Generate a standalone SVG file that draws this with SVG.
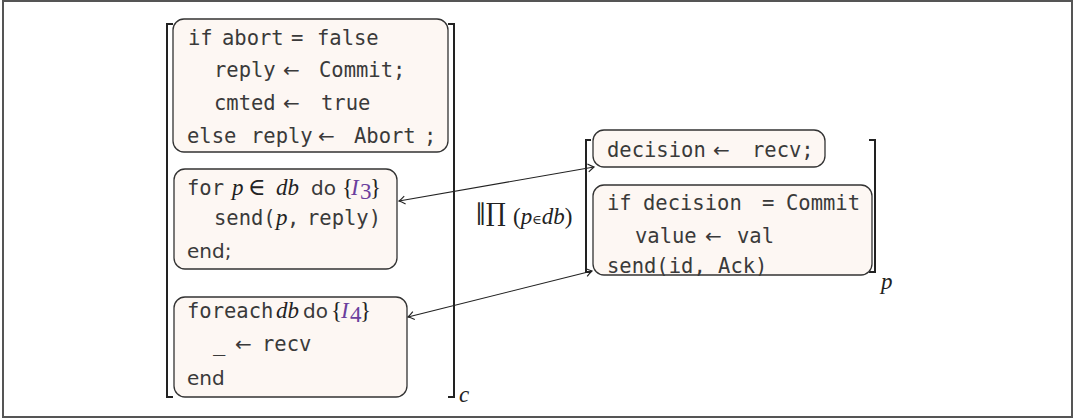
<svg xmlns="http://www.w3.org/2000/svg" width="1077" height="418" viewBox="0 0 1077 418">
<style>
.box{fill:#fdf7f3;stroke:#333;stroke-width:1.3}
.br{fill:none;stroke:#222;stroke-width:2}
.m{font-family:"DejaVu Sans Mono",monospace;font-size:20.5px;fill:#3a3a3a}
.s{font-family:"DejaVu Sans",sans-serif;font-size:20px;fill:#3a3a3a}
.i{font-family:"Liberation Serif",serif;font-style:italic;font-size:23px;fill:#222}
.r{font-family:"Liberation Serif",serif;font-size:23px;fill:#222}
.el{font-family:"DejaVu Serif",serif;font-size:24px;fill:#222}
.pu{fill:#6b3f9e}
.con{fill:none;stroke:#222;stroke-width:1.2}
</style>
<defs>
<marker id="ah" viewBox="-8 -5 10 10" refX="0" refY="0" markerWidth="10" markerHeight="10" markerUnits="userSpaceOnUse" orient="auto-start-reverse">
<path d="M-6,-4 Q-2,-1 0,0 Q-2,1 -6,4" fill="none" stroke="#222" stroke-width="1.1"/>
</marker>
</defs>
<rect x="3" y="1" width="1069" height="416" fill="#fff" stroke="#555" stroke-width="2"/>

<g id="bracket-left">
<path class="br" d="M173,24 H167 V397 H173"/>
<path class="br" d="M448,24 H454 V397 H448"/>
<text class="i" x="459" y="402" font-size="17">c</text>
</g>

<g id="node-commit">
<rect class="box" x="173" y="19" width="275" height="133" rx="11"/>
<text class="m" x="188" y="45">if</text><text class="m" x="222" y="45">abort</text><text class="m" x="291" y="45">=</text><text class="m" x="317" y="45">false</text>
<text class="m" x="214" y="77">reply</text><text class="s" x="283" y="77">←</text><text class="m" x="319" y="77">Commit;</text>
<text class="m" x="214" y="110">cmted</text><text class="s" x="283" y="110">←</text><text class="m" x="321" y="110">true</text>
<text class="m" x="187" y="143">else</text><text class="m" x="251" y="143">reply</text><text class="s" x="318" y="143">←</text><text class="m" x="354" y="143">Abort</text><text class="m" x="424" y="143">;</text>
</g>

<g id="node-for">
<rect class="box" x="174" y="169" width="223" height="100" rx="11"/>
<text class="m" x="187" y="195">for</text><text class="i" x="232" y="195">p</text><text class="el" x="248" y="195">∈</text><text class="i" x="276" y="195">db</text><text class="s" x="311" y="195">do</text><text class="r" x="342" y="195">{</text><text class="i pu" x="351" y="195">I</text><text class="r pu" x="360" y="199" font-size="15">3</text><text class="r" x="370" y="195">}</text>
<text class="m" x="214" y="225">send(</text><text class="i" x="276" y="225">p</text><text class="m" x="287" y="225">,</text><text class="m" x="307" y="225">reply)</text>
<text class="s" x="187" y="258">end;</text>
</g>

<g id="node-foreach">
<rect class="box" x="174" y="297" width="233" height="100" rx="11"/>
<text class="m" x="187" y="318">foreach</text><text class="i" x="276" y="318">db</text><text class="s" x="303" y="318">do</text><text class="r" x="331" y="318">{</text><text class="i pu" x="341" y="318">I</text><text class="r pu" x="350" y="322" font-size="15">4</text><text class="r" x="360" y="318">}</text>
<text class="m" x="213" y="351">_</text><text class="s" x="235" y="351">←</text><text class="m" x="262" y="351">recv</text>
<text class="s" x="187" y="385">end</text>
</g>

<g id="label-prod">
<text class="r" x="475" y="220" font-size="21">∥</text>
<text x="486" y="221" font-family="DejaVu Serif" font-size="25" fill="#222">∏</text>
<text class="r" x="513" y="224" font-size="16">(<tspan font-style="italic">p</tspan><tspan font-family="DejaVu Serif" font-size="13">∈</tspan><tspan font-style="italic">db</tspan>)</text>
</g>

<g id="bracket-right">
<path class="br" d="M591,140 H586 V272 H591"/>
<path class="br" d="M869,140 H875 V272 H869"/>
<text class="i" x="881" y="289" font-size="17">p</text>
</g>

<g id="node-decision">
<rect class="box" x="593" y="130" width="232" height="37" rx="11"/>
<text class="m" x="607" y="157">decision</text><text class="s" x="713" y="157">←</text><text class="m" x="752" y="157">recv;</text>
</g>

<g id="node-if">
<rect class="box" x="593" y="185" width="279" height="90" rx="11"/>
<text class="m" x="607" y="210">if</text><text class="m" x="643" y="210">decision</text><text class="m" x="762" y="210">=</text><text class="m" x="786" y="210">Commit</text>
<text class="m" x="635" y="243">value</text><text class="s" x="705" y="243">←</text><text class="m" x="737" y="243">val</text>
<text class="m" x="607" y="273">send(id, Ack)</text>
</g>

<g id="connectors">
<path class="con" d="M399,201 L594,167" marker-start="url(#ah)" marker-end="url(#ah)"/>
<path class="con" d="M408,317 L592,271" marker-start="url(#ah)" marker-end="url(#ah)"/>
</g>
</svg>
